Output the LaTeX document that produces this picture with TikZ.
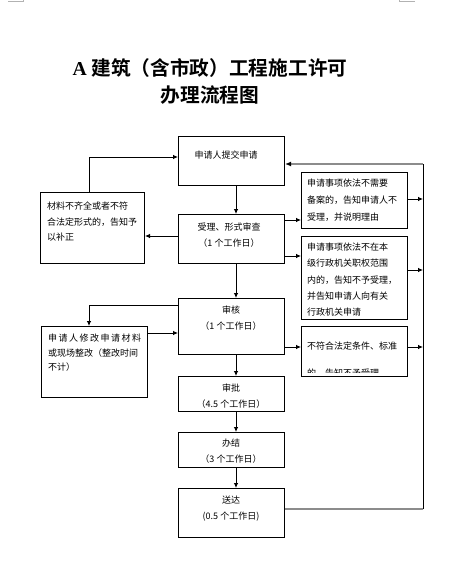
\documentclass[tikz,border=0pt]{standalone}
\usepackage{fontspec}
\setmainfont{Liberation Serif}
\newfontfamily\cjk{Noto Sans CJK SC}[BoldFont={Noto Sans CJK SC Bold}]
\usetikzlibrary{arrows.meta, positioning}

\begin{document}
\begin{tikzpicture}[x=1pt, y=-1pt,
    box/.style={draw, line width=1pt, anchor=north west, inner sep=0pt},
    txt/.style={font=\cjk\fontsize{9}{16}\selectfont, inner sep=0pt},
    side/.style={txt, align=left, anchor=north west},
    arr/.style={line width=0.8pt, -{Latex[length=5pt, width=4.5pt]}},
    back/.style={line width=2pt, gray!90}]
    \useasboundingbox (0,0) rectangle (454,588);

    \draw[gray!60, line width=0.8pt] (8,1) -- (23,1) -- (23,-3);
    \draw[gray!60, line width=0.8pt] (415,1) -- (399,1) -- (399,-3);

    \node[font=\cjk\bfseries\fontsize{19.7}{27}\selectfont, align=center, inner sep=0pt] (title) at (210,81.5)
        {{\rmfamily\bfseries A} 建筑（含市政）工程施工许可\\办理流程图};

    \node[box, minimum width=106pt, minimum height=49pt] (submit) at (178,136) {};
    \node[box, minimum width=106pt, minimum height=49pt] (accept) at (178,214) {};
    \node[box, minimum width=106pt, minimum height=56pt] (review) at (178,298) {};
    \node[box, minimum width=106pt, minimum height=35pt] (approve) at (178,376) {};
    \node[box, minimum width=106pt, minimum height=35pt] (finish) at (178,432) {};
    \node[box, minimum width=106pt, minimum height=49pt] (deliver) at (178,488) {};

    \node[box, minimum width=104pt, minimum height=71pt] (fixmat) at (40,192) {};
    \node[box, minimum width=106pt, minimum height=71pt] (rectify) at (41,326) {};

    \node[box, minimum width=106pt, minimum height=56pt] (nofile) at (301,172) {};
    \node[box, minimum width=106pt, minimum height=83pt] (noauth) at (301,236) {};
    \node[box, minimum width=106pt, minimum height=50pt] (noqual) at (301,326) {};

    \node[txt] (submit-t) at (226,155) {申请人提交申请};
    \node[txt, align=center] (accept-t) at (229,235) {受理、形式审查\\（1 个工作日）};
    \node[txt, align=center] (review-t) at (231,318.5) {审核\\（1 个工作日）};
    \node[txt, align=center] (approve-t) at (231,396) {审批\\（4.5 个工作日）};
    \node[txt, align=center] (finish-t) at (231,451.5) {办结\\（3 个工作日）};
    \node[txt, align=center] (deliver-t) at (231,508.5) {送达\\(0.5 个工作日)};

    \node[side, font=\cjk\fontsize{9}{15.5}\selectfont] (fixmat-t) at (47,201.8)
        {材料不齐全或者不符\\合法定形式的，告知予\\以补正};
    \node[side, font=\cjk\fontsize{9}{14.5}\selectfont] (rectify-t) at (48,333.8)
        {申\,请\,人\,修\,改\,申\,请\,材\,料\\或现场整改（整改时间\\不计）};
    \node[side, font=\cjk\fontsize{9}{17}\selectfont] (nofile-t) at (307,178.8)
        {申请事项依法不需要\\备案的，告知申请人不\\受理，并说明理由};
    \node[side, font=\cjk\fontsize{9}{16.25}\selectfont] (noauth-t) at (307,242.8)
        {申请事项依法不在本\\级行政机关职权范围\\内的，告知不予受理，\\并告知申请人向有关\\行政机关申请};
    \begin{scope}
        \clip (noqual.north west) rectangle ([yshift=5pt]noqual.south east);
        \node[side, font=\cjk\fontsize{9}{27}\selectfont] (noqual-t) at (307,341.8)
            {不符合法定条件、标准\\的，告知不予受理};
    \end{scope}

    \foreach \a/\b in {submit/accept, accept/review, review/approve, approve/finish, finish/deliver}
        \draw[arr] (\a.south -| 236,0) -- (\b.north -| 236,0);

    \draw[arr] (accept.west |- 0,236) -- (fixmat.east |- 0,236);
    \draw[arr] (fixmat.north -| 89,0) |- (submit.west |- 0,157);
    \draw[arr] (review.west |- 0,305) -| (rectify.north -| 89,0);
    \draw[arr] (rectify.east |- 0,333) -- (review.west |- 0,333);

    \draw[arr] (accept.east |- 0,220) -- (nofile.west |- 0,220);
    \draw[arr] (accept.east |- 0,256) -- (noauth.west |- 0,256);
    \draw[arr] (review.east |- 0,347) -- (noqual.west |- 0,347);

    \coordinate (back-top) at (423,164);
    \coordinate (back-bot) at (423,509);
    \draw[arr] (nofile.east |- 0,199) -- (back-top |- 0,199);
    \draw[arr] (noauth.east |- 0,270) -- (back-top |- 0,270);
    \draw[arr] (noqual.east |- 0,347) -- (back-top |- 0,347);
    \draw[back] (deliver.east |- back-bot) -- (back-bot);
    \draw[line width=0.8pt] (back-bot) -- (back-top);
    \draw[back, -{Latex[length=6pt, width=5pt, color=black]}] (back-top) -- (submit.east |- back-top);
\end{tikzpicture}
\end{document}
